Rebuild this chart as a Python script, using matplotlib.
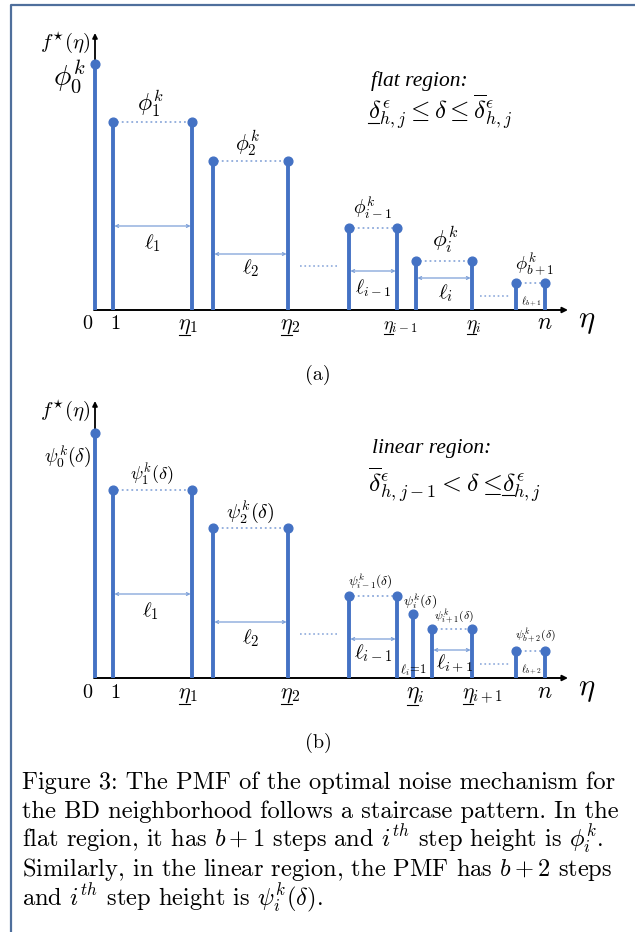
import matplotlib
matplotlib.use("Agg")
import matplotlib.pyplot as plt

plt.rcParams['mathtext.fontset'] = 'cm'
plt.rcParams['font.family'] = ['cmr10', 'DejaVu Serif']
plt.rcParams['axes.unicode_minus'] = False
plt.rcParams['axes.formatter.use_mathtext'] = True

blue = '#4472C4'
light = '#8EAADB'
arrow_c = '#7DA0D8'

# (a) flat region: steps, left edge / right edge / height (schematic units)
a_left = [0, 18, 118, 254, 321, 421]
a_right = [0, 97, 193, 302, 377, 450]
a_height = [246, 188, 149, 82, 49, 27]
a_names = [r'$\phi_0^k$', r'$\phi_1^k$', r'$\phi_2^k$', r'$\phi_{i-1}^k$', r'$\phi_i^k$', r'$\phi_{b+1}^k$']
a_len_names = ['', r'$\ell_1$', r'$\ell_2$', r'$\ell_{i-1}$', r'$\ell_i$', r'$\ell_{b+1}$']
a_ticks = ['1', '2', 'i-1', 'i']

# (b) linear region
b_left = [0, 18, 118, 254, 318, 337, 421]
b_right = [0, 97, 193, 302, 318, 377, 450]
b_height = [245, 188, 150, 82, 64, 49, 27]
b_names = [r'$\psi_0^k(\delta)$', r'$\psi_1^k(\delta)$', r'$\psi_2^k(\delta)$', r'$\psi_{i-1}^k(\delta)$',
           r'$\psi_i^k(\delta)$', r'$\psi_{i+1}^k(\delta)$', r'$\psi_{b+2}^k(\delta)$']
b_len_names = ['', r'$\ell_1$', r'$\ell_2$', r'$\ell_{i-1}$', r'$\ell_i\!=\!1$', r'$\ell_{i+1}$', r'$\ell_{b+2}$']
b_ticks = ['1', '2', 'i', 'i+1']

caption = [
    "Figure 3: The PMF of the optimal noise mechanism for",
    "the BD neighborhood follows a staircase pattern. In the",
    r"flat region, it has $b+1$ steps and $i^{th}$ step height is $\phi_i^k$.",
    r"Similarly, in the linear region, the PMF has $b+2$ steps",
    r"and $i^{th}$ step height is $\psi_i^k(\delta)$.",
]

W, H = 635, 932
fig = plt.figure(figsize=(W / 100, H / 100), dpi=100)
renderer = fig.canvas.get_renderer()

# base axes in pixel coords: frame + caption
ax0 = fig.add_axes([0, 0, 1, 1])
ax0.set_xlim(0, W)
ax0.set_ylim(H, 0)
ax0.axis('off')
ax0.plot([11, 11, W], [H, 5, 5], color='#4F6F9C', lw=1.6, solid_capstyle='butt')
for k, line in enumerate(caption):
    ax0.text(22, 789 + 29 * k, line, fontsize=17.6, va='baseline', ha='left')


def panel(oy):
    ax = fig.add_axes([0, 0, 1, 1])
    ax.set_xlim(-95, W - 95)
    ax.set_ylim(oy - H, oy)
    ax.axis('off')
    ax.patch.set_alpha(0)
    ax.annotate('', xy=(473, 0), xytext=(-1, 0),
                arrowprops=dict(arrowstyle='-|>', color='k', lw=1.4, mutation_scale=8, shrinkA=0, shrinkB=0))
    ax.annotate('', xy=(0, 277), xytext=(0, 0),
                arrowprops=dict(arrowstyle='-|>', color='k', lw=1.3, mutation_scale=7, shrinkA=0, shrinkB=0))
    return ax


def steps(ax, left, right, height, arrow_y):
    for l, r, h in zip(left, right, height):
        xs = [l] if l == r else [l, r]
        ax.vlines(xs, 0, h, color=blue, lw=2.8, zorder=3)
        ax.plot(xs, [h] * len(xs), 'o', color=blue, ms=6.3, zorder=4)
        if l != r:
            ax.plot([l + 4, r - 4], [h, h], ':', color=light, lw=1.3, zorder=2)
    wide = [(l, r) for l, r in zip(left, right) if l != r]
    for (l, r), ay in zip(wide, arrow_y):
        if ay is None:
            continue
        ax.annotate('', xy=(r, ay), xytext=(l, ay),
                    arrowprops=dict(arrowstyle='<->', color=arrow_c, lw=0.9, mutation_scale=5,
                                    shrinkA=1, shrinkB=1))
    # ellipsis dots between groups
    ax.plot([205, 243], [44, 44], ':', color=light, lw=1.2)
    ax.plot([385, 414], [14, 14], ':', color=light, lw=1.2)


def underline(t, start_px, width_em, drop_em):
    # draw a short underline below a rendered text (display pixels)
    bb = t.get_window_extent(renderer)
    fs = t.get_fontsize() * 100 / 72
    x0 = bb.x0 + start_px
    yb = t.get_transform().transform(t.get_position())[1] - drop_em * fs
    ax0.plot([x0, x0 + width_em * fs], [H - yb, H - yb], color='k', lw=0.8)


def tick_labels(ax, xs, subs, base, shifts, sizes):
    for x, s, d, fs in zip(xs, subs, shifts, sizes):
        t = ax.text(x - d, base, r'$\eta_{%s}$' % s, fontsize=fs, ha='left', va='baseline')
        underline(t, 0.5, 0.5, 0.28)


# ---------------- panel (a)
ax = panel(310)
steps(ax, a_left, a_right, a_height, [84, 56, 39, 32, None])
ax.text(-25, 233, a_names[0], fontsize=21, ha='center', va='center')
ax.text(56, 207, a_names[1], fontsize=17, ha='center', va='center')
ax.text(153, 167, a_names[2], fontsize=15.5, ha='center', va='center')
ax.text(278, 102, a_names[3], fontsize=14, ha='center', va='center')
ax.text(350, 70, a_names[4], fontsize=16.5, ha='center', va='center')
ax.text(440, 45, a_names[5], fontsize=13.5, ha='center', va='center')
ax.text(57, 67, a_len_names[1], fontsize=15, ha='center', va='center')
ax.text(156, 42, a_len_names[2], fontsize=15, ha='center', va='center')
ax.text(278, 22, a_len_names[3], fontsize=14, ha='center', va='center')
ax.text(350, 17, a_len_names[4], fontsize=15, ha='center', va='center')
ax.text(436, 9, a_len_names[5], fontsize=7.5, ha='center', va='center')
ax.text(-8, -19, '0', fontsize=14.5, ha='center', va='baseline')
ax.text(20, -19, '1', fontsize=14.5, ha='center', va='baseline')
tick_labels(ax, [a_right[1], a_right[2], a_right[3], a_right[4]], a_ticks, -19,
            [14, 8, 14, 6], [16, 16, 13, 14])
ax.text(450, -19, r'$n$', fontsize=17, ha='center', va='baseline')
ax.text(492, -12, r'$\eta$', fontsize=22, ha='center', va='center')
ax.text(-30, 268, r'$f^{\star}(\eta)$', fontsize=15, ha='center', va='center')
ax.text(223, -65, '(a)', fontsize=14.5, ha='center', va='center')
ax.text(276, 229, 'flat region:', fontsize=15.5, ha='left', va='center',
        family='Liberation Serif', style='italic')
t = ax.text(273, 190, r'$\delta_{h,j}^{\epsilon} \leq \delta \leq \overline{\delta}_{h,j}^{\epsilon}$',
            fontsize=18, ha='left', va='baseline')
underline(t, 0, 0.45, 0.12)

# ---------------- panel (b)
ax = panel(678)
steps(ax, b_left, b_right, b_height, [84, 56, 39, 28, None])
ax.text(-27, 221, b_names[0], fontsize=14, ha='center', va='center')
ax.text(57, 204, b_names[1], fontsize=13, ha='center', va='center')
ax.text(155, 166, b_names[2], fontsize=14.5, ha='center', va='center')
ax.text(275, 97, b_names[3], fontsize=9.5, ha='center', va='center')
ax.text(325, 77, b_names[4], fontsize=10, ha='center', va='center')
ax.text(359, 61, b_names[5], fontsize=8.5, ha='center', va='center')
ax.text(440, 42, b_names[6], fontsize=8.5, ha='center', va='center')
ax.text(55, 67, b_len_names[1], fontsize=15, ha='center', va='center')
ax.text(156, 40, b_len_names[2], fontsize=15, ha='center', va='center')
ax.text(278, 25, b_len_names[3], fontsize=15, ha='center', va='center')
ax.text(318, 8, b_len_names[4], fontsize=9, ha='center', va='center')
ax.text(360, 15, b_len_names[5], fontsize=14.5, ha='center', va='center')
ax.text(436, 9, b_len_names[6], fontsize=7.5, ha='center', va='center')
ax.text(-8, -20, '0', fontsize=14.5, ha='center', va='baseline')
ax.text(20, -20, '1', fontsize=14.5, ha='center', va='baseline')
tick_labels(ax, [b_right[1], b_right[2], b_right[4], b_right[5]], b_ticks, -20,
            [14, 8, 7, 10], [16, 16, 17, 15.5])
ax.text(450, -20, r'$n$', fontsize=17, ha='center', va='baseline')
ax.text(492, -12, r'$\eta$', fontsize=22, ha='center', va='center')
ax.text(-30, 268, r'$f^{\star}(\eta)$', fontsize=15, ha='center', va='center')
ax.text(223, -65, '(b)', fontsize=14.5, ha='center', va='center')
ax.text(277, 230, 'linear region:', fontsize=15.5, ha='left', va='center',
        family='Liberation Serif', style='italic')
t1 = ax.text(273, 186, r'$\overline{\delta}_{h,j-1}^{\epsilon} < \delta \leq\;$',
             fontsize=18.5, ha='left', va='baseline')
bb = t1.get_window_extent(renderer)
x_end = ax.transData.inverted().transform((bb.x1, 0))[0]
t2 = ax.text(x_end, 186, r'$\delta_{h,j}^{\epsilon}$', fontsize=18.5, ha='left', va='baseline')
underline(t2, 0, 0.45, 0.12)

fig.savefig('out.png', dpi=100)
